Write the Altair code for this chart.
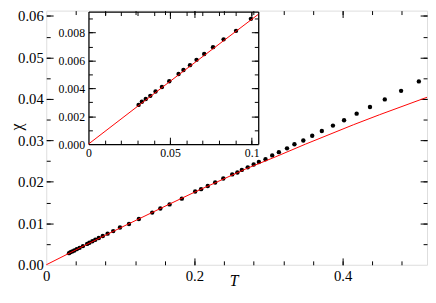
import altair as alt
import pandas as pd

# ---- data ----
T_low = [0.0307, 0.0327, 0.0351, 0.0379, 0.0411, 0.0450, 0.0495, 0.0552, 0.0582,
         0.0622, 0.0662, 0.0709, 0.0763, 0.0828, 0.0904, 0.0995]
chi_low = [0.00281, 0.00304, 0.00323, 0.00346, 0.00377, 0.00409, 0.00451, 0.00503, 0.00531,
           0.00566, 0.00604, 0.00646, 0.00695, 0.00751, 0.00812, 0.00898]
T_high = [0.1117, 0.125, 0.143, 0.154, 0.1665, 0.183, 0.201, 0.209, 0.218, 0.228, 0.239,
          0.251, 0.258, 0.264, 0.272, 0.280, 0.287, 0.296, 0.305, 0.314, 0.325, 0.335,
          0.347, 0.359, 0.372, 0.387, 0.402, 0.419, 0.437, 0.457, 0.479, 0.503]
chi_high = [0.00984, 0.01105, 0.01259, 0.01357, 0.01457, 0.01595, 0.01768, 0.01824, 0.0190,
            0.01984, 0.02082, 0.0218, 0.02227, 0.02288, 0.0235, 0.0242, 0.02478, 0.02547,
            0.02638, 0.02716, 0.02808, 0.02906, 0.02998, 0.03112, 0.03227, 0.03357, 0.03485,
            0.03645, 0.03805, 0.03989, 0.04195, 0.04423]
line_T = [0, 0.05, 0.1, 0.163, 0.2, 0.269, 0.309, 0.35, 0.415, 0.45, 0.514]
line_chi = [0, 0.0045, 0.0089, 0.01435, 0.0175, 0.0231, 0.0260, 0.0291, 0.0338, 0.0362, 0.0404]
inset_line_T = [0, 0.05, 0.104]
inset_line_chi = [0, 0.0045, 0.0093]

main_x_domain = [0, 0.514]
main_y_domain = [0, 0.0613]
inset_x_domain = [0, 0.104]
inset_y_domain = [0, 0.0095]

main_x_major = [0, 0.2, 0.4]
main_x_minor = [0.04, 0.08, 0.12, 0.16, 0.2, 0.24, 0.28, 0.32, 0.36, 0.4, 0.44, 0.48]
main_y_major = [0, 0.01, 0.02, 0.03, 0.04, 0.05, 0.06]
main_y_minor = [0.005, 0.01, 0.015, 0.02, 0.025, 0.03, 0.035, 0.04, 0.045, 0.05, 0.055, 0.06]
inset_x_major = [0, 0.05, 0.1]
inset_x_minor = [0.01, 0.02, 0.03, 0.04, 0.05, 0.06, 0.07, 0.08, 0.09, 0.1]
inset_y_major = [0, 0.002, 0.004, 0.006, 0.008]
inset_y_minor = [0.001, 0.002, 0.003, 0.004, 0.005, 0.006, 0.007, 0.008, 0.009]

# ---- layout (pixels) ----
W, H = 388, 259
IN_L, IN_R, IN_T, IN_B = 43, 216, 1, 136
MAJ, MIN = 7, 4
FONT = "Liberation Serif, serif"

dots = pd.DataFrame({"T": T_low + T_high, "chi": chi_low + chi_high})
inset_dots = pd.DataFrame({"T": T_low, "chi": chi_low})
line = pd.DataFrame({"T": line_T, "chi": line_chi})
inset_line = pd.DataFrame({"T": inset_line_T, "chi": inset_line_chi})


def mx():
    return alt.Scale(domain=main_x_domain, nice=False, zero=False)


def my():
    return alt.Scale(domain=main_y_domain, nice=False, zero=False)


def ix():
    return alt.Scale(domain=inset_x_domain, range=[IN_L, IN_R], nice=False, zero=False)


def iy():
    return alt.Scale(domain=inset_y_domain, range=[IN_B, IN_T], nice=False, zero=False)


def tick_axis(orient, offset, values, size, domain=False):
    return alt.Axis(orient=orient, offset=offset, values=values, tickSize=size,
                    labels=False, domain=domain, grid=False, title="",
                    tickColor="black", tickWidth=1, domainColor="black",
                    domainWidth=1.3)


def tick_layer(data, xs, ys, xo, xoff, xv, yo, yoff, yv, size, domain=False):
    return alt.Chart(data).mark_point(opacity=0).encode(
        x=alt.X("T:Q", scale=xs, axis=tick_axis(xo, xoff, xv, size, domain)),
        y=alt.Y("chi:Q", scale=ys, axis=tick_axis(yo, yoff, yv, size, domain)),
    )


# main plot
main_dots = alt.Chart(dots).mark_circle(size=20, color="black", opacity=1).encode(
    x=alt.X("T:Q", scale=mx(), axis=alt.Axis(
        orient="bottom", values=main_x_major, format="~g", ticks=False, tickSize=0,
        domain=False, grid=False, labelFont=FONT, labelFontSize=15, labelColor="black",
        labelPadding=4, labelFlush=False, labelOverlap=False,
        title="T", titleFont=FONT, titleFontSize=16, titleFontStyle="italic",
        titleFontWeight="normal", titleColor="black", titleX=191, titleY=21,
        titleBaseline="alphabetic")),
    y=alt.Y("chi:Q", scale=my(), axis=alt.Axis(
        orient="left", values=main_y_major, format=".2f", ticks=False, tickSize=0,
        domain=False, grid=False, labelFont=FONT, labelFontSize=15, labelColor="black",
        labelPadding=3, labelOverlap=False,
        title="χ", titleFont=FONT, titleFontSize=16, titleFontWeight="normal",
        titleColor="black", titleX=-30, titleY=118, titleBaseline="middle")),
)
main_line = alt.Chart(line).mark_line(color="#ff0000", strokeWidth=1).encode(
    x=alt.X("T:Q", scale=mx(), axis=None),
    y=alt.Y("chi:Q", scale=my(), axis=None),
)
m_bot_left_maj = tick_layer(dots, mx(), my(), "top", -H, main_x_major[1:], "right", -W,
                            main_y_major[1:], MAJ)
m_bot_left_min = tick_layer(dots, mx(), my(), "top", -H, main_x_minor, "right", -W,
                            main_y_minor, MIN)
m_top_right_maj = tick_layer(dots, mx(), my(), "bottom", -H, main_x_major[1:], "left", -W,
                             main_y_major[1:], MAJ)
m_top_right_min = tick_layer(dots, mx(), my(), "bottom", -H, main_x_minor, "left", -W,
                             main_y_minor, MIN)

# inset
in_dots = alt.Chart(inset_dots).mark_circle(size=20, color="black", opacity=1).encode(
    x=alt.X("T:Q", scale=ix(), axis=alt.Axis(
        orient="bottom", offset=-(H - IN_B), values=inset_x_major, format="~g",
        ticks=False, tickSize=0, domain=True, domainColor="black", domainWidth=1.3,
        grid=False, labelFont=FONT, labelFontSize=12, labelColor="black", labelPadding=4,
        labelFlush=False, labelOverlap=False, title="")),
    y=alt.Y("chi:Q", scale=iy(), axis=alt.Axis(
        orient="left", offset=-IN_L, values=inset_y_major, format=".3f",
        ticks=False, tickSize=0, domain=True, domainColor="black", domainWidth=1.3,
        grid=False, labelFont=FONT, labelFontSize=12, labelColor="black", labelPadding=4,
        labelOverlap=False, title="")),
)
in_line = alt.Chart(inset_line).mark_line(color="#ff0000", strokeWidth=1).encode(
    x=alt.X("T:Q", scale=ix(), axis=None),
    y=alt.Y("chi:Q", scale=iy(), axis=None),
)
i_top_right_maj = tick_layer(inset_dots, ix(), iy(), "bottom", IN_T - H, inset_x_major[1:],
                             "left", -IN_R, inset_y_major[1:], MAJ, domain=True)
i_top_right_min = tick_layer(inset_dots, ix(), iy(), "bottom", IN_T - H, inset_x_minor,
                             "left", -IN_R, inset_y_minor, MIN)
i_bot_left_maj = tick_layer(inset_dots, ix(), iy(), "top", -IN_B, inset_x_major[1:],
                            "right", IN_L - W, inset_y_major[1:], MAJ)
i_bot_left_min = tick_layer(inset_dots, ix(), iy(), "top", -IN_B, inset_x_minor,
                            "right", IN_L - W, inset_y_minor, MIN)

chart = alt.layer(
    main_dots, main_line, m_bot_left_maj, m_bot_left_min, m_top_right_maj, m_top_right_min,
    in_dots, in_line, i_top_right_maj, i_top_right_min, i_bot_left_maj, i_bot_left_min,
).resolve_scale(x="independent", y="independent").properties(
    width=W, height=H,
    autosize=alt.AutoSizeParams(type="none"),
    padding={"left": 39, "top": 0, "right": 1, "bottom": 22},
).configure_view(stroke="black", strokeWidth=1.5).configure(background="white")

chart.save("out.html", embed_options={"renderer": "svg", "actions": False})
